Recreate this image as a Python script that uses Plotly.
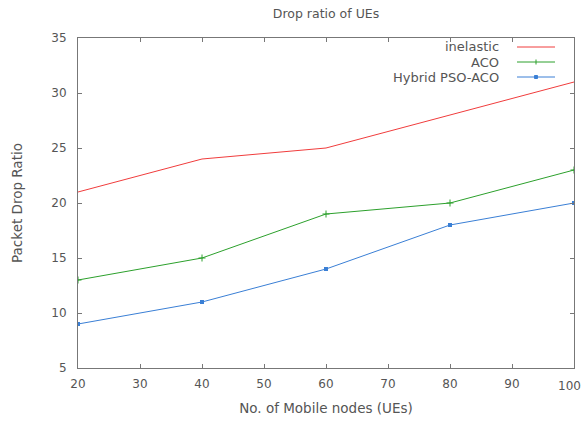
import plotly.graph_objects as go

nodes = [20, 40, 60, 80, 100]
inelastic = [21, 24, 25, 28, 31]
aco = [13, 15, 19, 20, 23]
hybrid = [9, 11, 14, 18, 20]
names = ["inelastic", "ACO", "Hybrid PSO-ACO"]
colors = ["#f03c3c", "#2ca02c", "#3a7fd5"]
x_ticks = [20, 30, 40, 50, 60, 70, 80, 90, 100]
y_ticks = [5, 10, 15, 20, 25, 30, 35]

L, R, T, B = 78, 10, 38, 53
W, H = 584, 421
pw, ph = W - L - R, H - T - B
FONT = "DejaVu Sans"
GREY = "#555"

fig = go.Figure()
fig.add_trace(go.Scatter(x=nodes, y=inelastic, mode="lines", name=names[0],
                         line=dict(color=colors[0], width=1)))
fig.add_trace(go.Scatter(x=nodes, y=aco, mode="lines+markers", name=names[1],
                         line=dict(color=colors[1], width=1),
                         marker=dict(symbol="cross-thin", size=5, line=dict(color=colors[1], width=1))))
fig.add_trace(go.Scatter(x=nodes, y=hybrid, mode="lines+markers", name=names[2],
                         line=dict(color=colors[2], width=1),
                         marker=dict(symbol="square", size=4, color=colors[2])))

# custom gnuplot-style legend (text right-aligned, sample to the right)
leg_y = [47, 62, 77]
shapes = []
annotations = []
px = lambda v: (v - L) / pw
py = lambda v: (H - B - v) / ph
for i, nm in enumerate(names):
    yp = py(leg_y[i])
    annotations.append(dict(x=px(501), y=yp, xref="paper", yref="paper",
                            text=nm, showarrow=False, xanchor="right", yanchor="middle",
                            font=dict(size=13, color=GREY, family=FONT)))
    shapes.append(dict(type="line", xref="paper", yref="paper",
                       x0=px(517), x1=px(555), y0=yp, y1=yp,
                       line=dict(color=colors[i], width=1)))
# legend sample markers
shapes.append(dict(type="line", xref="paper", yref="paper", x0=px(536), x1=px(536),
                   y0=py(59.5), y1=py(64.5), line=dict(color=colors[1], width=1)))
shapes.append(dict(type="rect", xref="paper", yref="paper", x0=px(534.5), x1=px(537.5),
                   y0=py(78.5), y1=py(75.5), line=dict(color=colors[2], width=1),
                   fillcolor=colors[2]))

# "100" label at the right edge
annotations.append(dict(x=100, y=0, xref="x", yref="paper", text="100", showarrow=False,
                        xanchor="right", yanchor="top", yshift=-9, xshift=9,
                        font=dict(size=12, color=GREY, family=FONT)))

axis_common = dict(showgrid=False, zeroline=False, showline=True, linecolor="#777", linewidth=1,
                   mirror="ticks", ticks="inside", ticklen=4, tickcolor="#777", automargin=False,
                   tickfont=dict(size=12, color=GREY, family=FONT))
fig.update_layout(
    width=W, height=H,
    margin=dict(l=L, r=R, t=T, b=B),
    paper_bgcolor="white", plot_bgcolor="white",
    showlegend=False,
    font=dict(family=FONT, size=12, color=GREY),
    title=dict(text="Drop ratio of UEs", x=(L + pw / 2) / W, xanchor="center", y=1 - 14 / H,
               yanchor="middle", font=dict(size=12.5, color=GREY, family=FONT)),
    xaxis=dict(range=[20, 100], tickvals=x_ticks,
               ticktext=[str(v) if v != 100 else "" for v in x_ticks],
               ticklabelstandoff=5,
               title=dict(text="No. of Mobile nodes (UEs)", font=dict(size=13.5, color=GREY, family=FONT),
                          standoff=13),
               **axis_common),
    yaxis=dict(range=[5, 35], tickvals=y_ticks, ticklabelstandoff=8,
               title=dict(text="Packet Drop Ratio", font=dict(size=13.5, color=GREY, family=FONT),
                          standoff=25),
               **axis_common),
    shapes=shapes, annotations=annotations,
)
fig.write_html("out.html")
